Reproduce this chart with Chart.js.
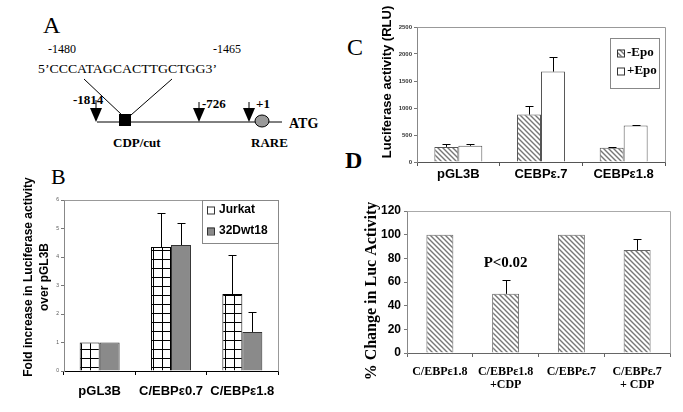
<!DOCTYPE html>
<html>
<head>
<meta charset="utf-8">
<script src="https://cdn.jsdelivr.net/npm/chart.js@4.4.1/dist/chart.umd.min.js"></script>
<style>
  html, body { margin: 0; padding: 0; background: #fff; }
  #page { position: relative; width: 683px; height: 412px; overflow: hidden; }
  svg { position: absolute; left: 0; top: 0; }
  canvas { position: absolute; }
  #chart-b { left: 0; top: 160px; }
  #chart-c { left: 340px; top: 0; }
  #chart-d { left: 340px; top: 190px; }
  .serif { font-family: "Liberation Serif", "DejaVu Serif", serif; }
</style>
</head>
<body>
<div id="page">
  <svg width="683" height="412" class="serif">
    <!-- panel letters -->
    <text x="43" y="33" font-size="24">A</text>
    <text x="51" y="184" font-size="22">B</text>
    <text x="347" y="55" font-size="24">C</text>
    <text x="345" y="168" font-size="24" font-weight="bold">D</text>

    <!-- panel A: promoter diagram -->
    <text x="48" y="53" font-size="12">-1480</text>
    <text x="213" y="53" font-size="12">-1465</text>
    <text x="38" y="73" font-size="13" textLength="179" lengthAdjust="spacingAndGlyphs">5’CCCATAGCACTTGCTGG3’</text>
    <g stroke="#000" stroke-width="1">
      <line x1="84" y1="79" x2="122" y2="115"/>
      <line x1="172" y1="79" x2="131" y2="115"/>
      <line x1="97" y1="122" x2="282" y2="122"/>
      <line x1="96" y1="100" x2="96" y2="108"/>
      <line x1="199" y1="102" x2="199" y2="108"/>
      <line x1="249" y1="102" x2="249" y2="108"/>
    </g>
    <rect x="119" y="114" width="12" height="12" fill="#000"/>
    <polygon points="90,108 102,108 96,122" fill="#000"/>
    <polygon points="193,108 205,108 199,122" fill="#000"/>
    <polygon points="243,108 255,108 249,122" fill="#000"/>
    <ellipse cx="262" cy="121" rx="7" ry="6" fill="#999" stroke="#000"/>
    <g font-weight="bold" font-size="13">
      <text x="73" y="104">-1814</text>
      <text x="202" y="108">-726</text>
      <text x="256" y="108">+1</text>
      <text x="289" y="128" font-size="14">ATG</text>
      <text x="113" y="147">CDP/cut</text>
      <text x="251" y="147">RARE</text>
    </g>
  </svg>
  <canvas id="chart-b" width="300" height="252"></canvas>
  <canvas id="chart-c" width="343" height="190"></canvas>
  <canvas id="chart-d" width="343" height="222"></canvas>
</div>
<script>
// ---- data ----
const B_LABELS = ["pGL3B", "C/EBPε0.7", "C/EBPε1.8"];
const B_SERIES = ["Jurkat", "32Dwt18"];
const B_JURKAT = [1, 4.35, 2.7];
const B_JURKAT_ERR = [0, 1.19, 1.38];
const B_32D = [1, 4.42, 1.37];
const B_32D_ERR = [0, 0.76, 0.7];
const B_TITLE = ["Fold increase in Luciferase activity", "over pGL3B"];

const C_LABELS = ["pGL3B", "CEBPε.7", "CEBPε1.8"];
const C_SERIES = ["-Epo", "+Epo"];
const C_MINUS_EPO = [280, 878, 265];
const C_MINUS_EPO_ERR = [50, 166, 15];
const C_PLUS_EPO = [300, 1674, 675];
const C_PLUS_EPO_ERR = [40, 270, 10];
const C_TITLE = ["Luciferase activity (RLU)"];

const D_LABELS = [["C/EBPε1.8"], ["C/EBPε1.8", "+CDP"], ["C/EBPε.7"], ["C/EBPε.7", "+ CDP"]];
const D_VALUES = [100, 50, 100, 87];
const D_ERR = [0, 11.5, 0, 9.5];
const D_TITLE = ["% Change in Luc Activity"];
const D_NOTE = "P<0.02";

const SANS  = "'Liberation Sans', Arial, sans-serif";
const SERIF = "'Liberation Serif', 'Times New Roman', serif";

Chart.defaults.font.family = SANS;
Chart.defaults.color = "#000";

// ---- fill patterns ----
function gridPattern(cell) {
  const c = document.createElement("canvas");
  c.width = c.height = cell;
  const g = c.getContext("2d");
  g.fillStyle = "#fff"; g.fillRect(0, 0, cell, cell);
  g.fillStyle = "#000"; g.fillRect(0, 0, cell, 1); g.fillRect(0, 0, 1, cell);
  return g.createPattern(c, "repeat");
}

function hatchPattern(s, color, lw) {
  const c = document.createElement("canvas");
  c.width = c.height = s;
  const g = c.getContext("2d");
  g.fillStyle = "#fff"; g.fillRect(0, 0, s, s);
  g.strokeStyle = color; g.lineWidth = lw;
  g.beginPath();
  g.moveTo(-1, -1); g.lineTo(s + 1, s + 1);
  g.moveTo(-1, s - 1); g.lineTo(1, s + 1);
  g.moveTo(s - 1, -1); g.lineTo(s + 1, 1);
  g.stroke();
  return g.createPattern(c, "repeat");
}

// ---- plugins ----
const errorBars = {
  id: "errorBars",
  afterDatasetsDraw(chart, args, opts) {
    const { ctx } = chart;
    const y = chart.scales.y;
    ctx.save();
    ctx.strokeStyle = "#000";
    ctx.lineWidth = 1;
    chart.data.datasets.forEach((ds, i) => {
      if (!ds.errors) return;
      chart.getDatasetMeta(i).data.forEach((bar, j) => {
        if (!ds.errors[j]) return;
        const top = Math.round(y.getPixelForValue(ds.data[j] + ds.errors[j])) + 0.5;
        const x = Math.round(bar.x) + 0.5;
        ctx.beginPath();
        ctx.moveTo(x, bar.y); ctx.lineTo(x, top);
        ctx.moveTo(x - opts.cap, top); ctx.lineTo(x + opts.cap, top);
        ctx.stroke();
      });
    });
    ctx.restore();
  },
};

const plotFrame = {
  id: "plotFrame",
  beforeDatasetsDraw(chart, args, opts) {
    const { ctx, chartArea: a } = chart;
    ctx.save();
    ctx.strokeStyle = opts.color;
    ctx.lineWidth = 1;
    ctx.beginPath();
    ctx.moveTo(Math.round(a.left) + 0.5, Math.round(a.top) + 0.5);
    ctx.lineTo(Math.round(a.right) + 0.5, Math.round(a.top) + 0.5);
    ctx.lineTo(Math.round(a.right) + 0.5, Math.round(a.bottom) + 0.5);
    ctx.stroke();
    ctx.restore();
  },
};

// rotated y-axis title, one entry per line, placed at fixed x positions
const sideTitle = {
  id: "sideTitle",
  afterDraw(chart, args, opts) {
    if (!opts.text) return;
    const { ctx } = chart;
    ctx.save();
    ctx.font = opts.font;
    ctx.fillStyle = "#000";
    ctx.textAlign = "center";
    ctx.textBaseline = "middle";
    opts.text.forEach((line, i) => {
      ctx.save();
      ctx.translate(opts.x[i], opts.cy);
      ctx.rotate(-Math.PI / 2);
      ctx.fillText(line, 0, 0);
      ctx.restore();
    });
    ctx.restore();
  },
};

const boxLegend = {
  id: "boxLegend",
  afterDraw(chart, args, opts) {
    if (!opts.rows) return;
    const { ctx } = chart;
    ctx.save();
    ctx.fillStyle = "#fff";
    ctx.fillRect(opts.x, opts.y, opts.w, opts.h);
    ctx.strokeStyle = "#888";
    ctx.lineWidth = 1;
    ctx.strokeRect(opts.x + 0.5, opts.y + 0.5, opts.w, opts.h);
    ctx.font = opts.font;
    ctx.textBaseline = "middle";
    chart.data.datasets.forEach((ds, i) => {
      const cy = opts.rows[i];
      const s = opts.swatch;
      ctx.fillStyle = ds.backgroundColor;
      ctx.fillRect(opts.swatchX, cy - s / 2, s, s);
      ctx.strokeStyle = "#333";
      ctx.strokeRect(opts.swatchX + 0.5, cy - s / 2 + 0.5, s, s);
      ctx.fillStyle = "#000";
      ctx.fillText(ds.label, opts.textX, cy);
    });
    ctx.restore();
  },
};

const note = {
  id: "note",
  afterDatasetsDraw(chart, args, opts) {
    if (!opts.text) return;
    const { ctx, scales } = chart;
    ctx.save();
    ctx.font = opts.font;
    ctx.fillStyle = "#000";
    ctx.textAlign = "center";
    ctx.textBaseline = "middle";
    ctx.fillText(opts.text, scales.x.getPixelForValue(opts.index), scales.y.getPixelForValue(opts.value));
    ctx.restore();
  },
};

const PLUGINS = [plotFrame, errorBars, sideTitle, boxLegend, note];
const BASE = { responsive: false, animation: false, devicePixelRatio: 1, events: [] };

// ---- B ----
new Chart(document.getElementById("chart-b"), {
  type: "bar",
  plugins: PLUGINS,
  data: {
    labels: B_LABELS,
    datasets: [
      { label: B_SERIES[0], data: B_JURKAT, errors: B_JURKAT_ERR, backgroundColor: gridPattern(9), borderColor: "#000", borderWidth: 1 },
      { label: B_SERIES[1], data: B_32D, errors: B_32D_ERR, backgroundColor: "#8a8a8a", borderColor: "#333", borderWidth: 1 },
    ],
  },
  options: {
    ...BASE,
    layout: { padding: { top: 40, right: 22 } },
    datasets: { bar: { categoryPercentage: 0.56, barPercentage: 1 } },
    plugins: {
      legend: { display: false },
      tooltip: { enabled: false },
      errorBars: { cap: 4 },
      plotFrame: { color: "#999" },
      sideTitle: { text: B_TITLE, x: [29, 45], cy: 117, font: `bold 12px ${SANS}` },
      boxLegend: { x: 202, y: 40, w: 76, h: 43, rows: [50, 71], swatch: 7, swatchX: 207, textX: 219, font: `bold 12px ${SANS}` },
    },
    scales: {
      x: {
        afterFit: s => { s.height = 41; },
        grid: { drawOnChartArea: false, tickLength: 4, color: "#000" },
        border: { color: "#000" },
        ticks: { font: { size: 13, weight: "bold" }, padding: 9, autoSkip: false, maxRotation: 0 },
      },
      y: {
        min: 0, max: 6,
        afterFit: s => { s.width = 64; },
        grid: { drawOnChartArea: false, tickLength: 3, color: "#777" },
        border: { color: "#888" },
        ticks: { stepSize: 1, autoSkip: false, font: { size: 5 }, color: "#555", padding: 2 },
      },
    },
  },
});

// ---- C ----
new Chart(document.getElementById("chart-c"), {
  type: "bar",
  plugins: PLUGINS,
  data: {
    labels: C_LABELS,
    datasets: [
      { label: C_SERIES[0], data: C_MINUS_EPO, errors: C_MINUS_EPO_ERR, backgroundColor: hatchPattern(5, "#777", 1.4), borderColor: "#555", borderWidth: 1 },
      { label: C_SERIES[1], data: C_PLUS_EPO, errors: C_PLUS_EPO_ERR, backgroundColor: "#fff", borderColor: "#555", borderWidth: 1 },
    ],
  },
  options: {
    ...BASE,
    layout: { padding: { top: 27, right: 18 } },
    datasets: { bar: { categoryPercentage: 0.58, barPercentage: 1 } },
    plugins: {
      legend: { display: false },
      tooltip: { enabled: false },
      errorBars: { cap: 4 },
      plotFrame: { color: "#999" },
      sideTitle: { text: C_TITLE, x: [47], cy: 82, font: `bold 13px ${SANS}` },
      boxLegend: { x: 270, y: 38, w: 49, h: 50, rows: [53, 71], swatch: 7, swatchX: 277, textX: 287, font: `bold 13px ${SERIF}` },
    },
    scales: {
      x: {
        afterFit: s => { s.height = 28; },
        grid: { drawOnChartArea: false, tickLength: 4, color: "#555" },
        border: { color: "#555" },
        ticks: { font: { size: 13, weight: "bold" }, padding: 1, autoSkip: false, maxRotation: 0 },
      },
      y: {
        min: 0, max: 2500,
        afterFit: s => { s.width = 77; },
        grid: { drawOnChartArea: false, tickLength: 3, color: "#777" },
        border: { color: "#888" },
        ticks: { stepSize: 500, autoSkip: false, callback: v => String(v), font: { size: 6, weight: "bold" }, color: "#333", padding: 2 },
      },
    },
  },
});

// ---- D ----
new Chart(document.getElementById("chart-d"), {
  type: "bar",
  plugins: PLUGINS,
  data: {
    labels: D_LABELS,
    datasets: [
      { label: "", data: D_VALUES, errors: D_ERR, backgroundColor: hatchPattern(5, "#777", 1.4), borderColor: "#666", borderWidth: 1 },
    ],
  },
  options: {
    ...BASE,
    layout: { padding: { top: 21, right: 13 } },
    datasets: { bar: { categoryPercentage: 0.41, barPercentage: 1 } },
    plugins: {
      legend: { display: false },
      tooltip: { enabled: false },
      errorBars: { cap: 4 },
      plotFrame: { color: "#aaa" },
      sideTitle: { text: D_TITLE, x: [32], cy: 101, font: `bold 16px ${SERIF}` },
      note: { text: D_NOTE, index: 1, value: 76, font: `bold 15px ${SERIF}` },
    },
    scales: {
      x: {
        afterFit: s => { s.height = 59; },
        grid: { drawOnChartArea: false, tickLength: 4, color: "#666" },
        border: { color: "#666" },
        ticks: { font: { family: SERIF, size: 12, weight: "bold", lineHeight: 1.1 }, padding: 8, autoSkip: false, maxRotation: 0 },
      },
      y: {
        min: 0, max: 120,
        afterFit: s => { s.width = 67; },
        grid: { drawOnChartArea: false, tickLength: 3, color: "#777" },
        border: { color: "#888" },
        ticks: { stepSize: 20, autoSkip: false, font: { size: 12, weight: "bold" }, padding: 3 },
      },
    },
  },
});
</script>
</body>
</html>
